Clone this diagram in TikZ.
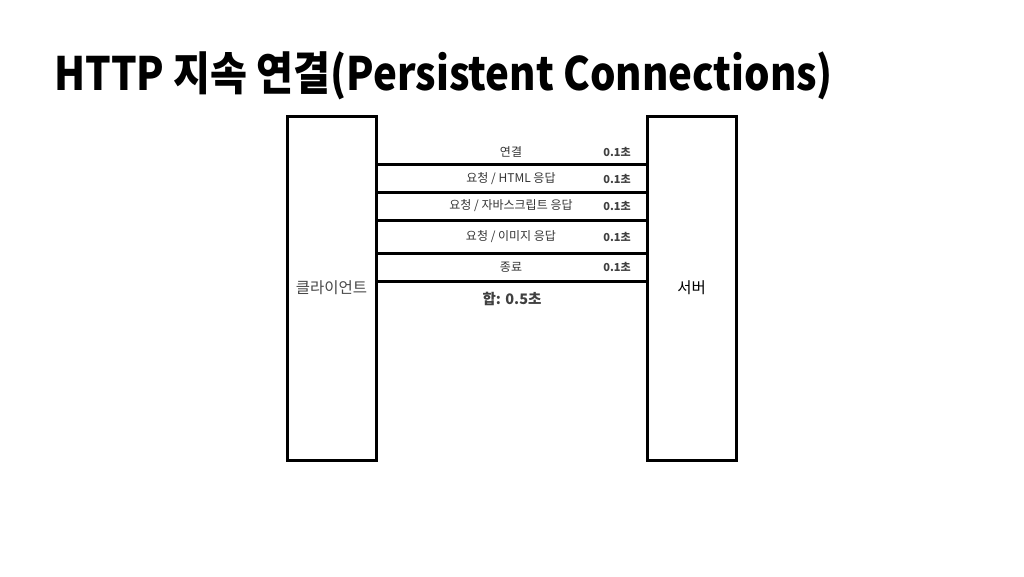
\documentclass[tikz,border=0pt]{standalone}
\usepackage{fontspec}
\setmainfont{Noto Sans CJK KR}
\usetikzlibrary{calc}

\tikzset{
  host/.style={draw=black, line width=3pt, minimum width=89pt, minimum height=344pt, inner sep=0pt},
  wire/.style={line width=3pt},
  lbl/.style={text=black!75, font=\fontsize{11}{12}\selectfont\bfseries, inner sep=0pt},
  msg/.style={text=black!80, font=\fontsize{12}{13}\selectfont, inner sep=0pt}
}

\begin{document}
\begin{tikzpicture}[x=1pt,y=-1pt]
\useasboundingbox (0,0) rectangle (1024,576);
\node[anchor=west, inner sep=0pt, font=\fontsize{46}{48}\selectfont\bfseries] (title) at (54,76) {\scalebox{0.874}[1]{HTTP 지속 연결(Persistent Connections)}};
\node[host] (client) at (331.5,288) {};
\node[host] (server) at (691.5,288) {};
\node[text=black!72, font=\fontsize{15.5}{16}\selectfont] (clabel) at (client) {클라이언트};
\node[text=black, font=\fontsize{15.5}{16}\selectfont] (slabel) at (server) {서버};
% lines between client and server
\foreach \y in {164,192,220,253,281}{
  \coordinate (w\y) at (0,\y);
  \draw[wire] (client.east |- w\y) -- (server.west |- w\y);
}
% labels
\foreach \y/\t in {152/{연결}, 179/{요청 / HTML 응답}, 206/{요청 / 자바스크립트 응답}, 237/{요청 / 이미지 응답}, 267/{종료}}{
  \node[msg] (m\y) at (511,\y) {\t};
  \node[lbl] (t\y) at (617,\y) {0.1초};
}
\node[lbl, font=\fontsize{14.5}{15}\selectfont\bfseries] (sum) at (512,299) {합: 0.5초};
\end{tikzpicture}
\end{document}
